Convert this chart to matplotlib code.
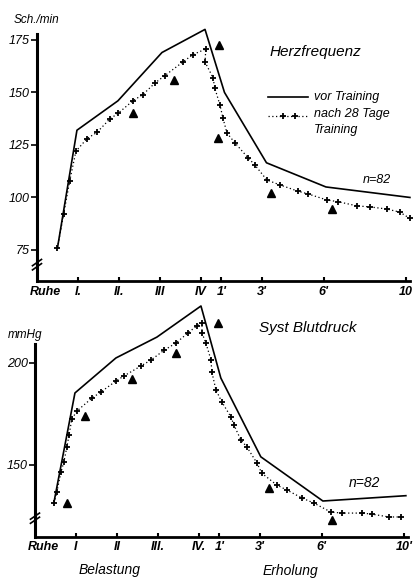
import matplotlib
matplotlib.use("Agg")
import matplotlib.pyplot as plt

plt.rcParams['font.family'] = ['Liberation Sans Narrow', 'Liberation Sans', 'DejaVu Sans']
plt.rcParams['font.style'] = 'italic'

# x positions: exercise stages and recovery minutes on a common scale
tick_pos = [-7.6, -6, -4, -2, 0, 1, 3, 6, 10]
top_tick_labels = ["Ruhe", "I.", "II.", "III", "IV", "1'", "3'", "6'", "10"]
bot_tick_labels = ["Ruhe", "I", "II", "III.", "IV.", "1'", "3'", "6'", "10'"]

# Heart rate (Herzfrequenz)
hr_pre_x = [-7.0, -6.05, -4.05, -1.9, 0.2, 1.15, 3.2, 6.1, 10.2]
hr_pre_y = [76, 132, 146, 169, 180, 150, 116.5, 105, 100]
hr_post_x = [-7.0, -6.7, -6.4, -6.1, -5.56, -5.07, -4.44, -4.05, -3.32, -2.83, -2.24, -1.76,
             -0.88, -0.39, 0.24, 0.2, 0.59, 0.68, 0.93, 1.07, 1.27, 1.66, 2.29, 2.63, 3.22,
             3.85, 4.73, 5.22, 6.15, 6.68, 7.61, 8.24, 9.07, 9.71, 10.2]
hr_post_y = [76, 92, 108, 122, 128, 131, 137.4, 140, 146, 149, 154.5, 158,
             164.5, 168, 170.7, 164.5, 157, 152, 144, 138, 130.7, 126, 119, 115.5, 108.3,
             106, 103, 101.7, 98.8, 98, 96, 95.5, 94.5, 93, 90]
hr_tri_x = [-3.3, -1.3, 0.9, 0.85, 3.4, 6.4]
hr_tri_y = [140, 156, 172.6, 128.3, 102, 94.5]

# Systolic blood pressure (Syst Blutdruck)
bp_pre_x = [-7.07, -6.05, -4.05, -2.05, 0.1, 1.07, 3.02, 6.05, 10.1]
bp_pre_y = [132, 185.2, 202.3, 212.5, 227.7, 192.5, 154, 132.4, 135]
bp_post_x = [-7.07, -6.93, -6.73, -6.59, -6.44, -6.34, -6.2, -5.95, -5.22, -4.78, -4.05, -3.66,
             -2.83, -2.34, -1.71, -1.12, -0.54, -0.1, 0.15, 0.15, 0.34, 0.59, 0.63, 0.83,
             1.12, 1.56, 1.71, 2.05, 2.34, 2.83, 3.07, 3.8, 4.29, 5.02, 5.61, 6.44, 6.98,
             7.95, 8.44, 9.27, 9.85]
bp_post_y = [131.4, 137, 146.6, 151.5, 159, 164.6, 172.5, 176.4, 182.7, 185.7, 191, 193.5,
             198.4, 201.3, 206, 209.6, 214.5, 218, 219.4, 214.5, 209.6, 201.3, 195.5, 186.7,
             180.8, 173.5, 169.5, 162.2, 158.8, 151, 146, 140.2, 137.8, 133.9, 131.4, 127, 126.5,
             126.5, 126, 124.6, 124.6]
bp_tri_x = [-6.44, -5.56, -3.27, -1.12, 0.93, 3.41, 6.49]
bp_tri_y = [131.4, 174, 192, 204.7, 219.4, 138.8, 123]

fig = plt.figure(figsize=(4.16, 5.8), dpi=100)
ax1 = fig.add_axes([0.0889, 0.5147, 0.9014, 0.4491])
ax2 = fig.add_axes([0.0841, 0.0748, 0.9014, 0.4128])


def style(ax, ylim, yticks, ytop, xlabels, brk):
    ax.set_xlim(-8, 10.3)
    ax.set_ylim(*ylim)
    for s in ['top', 'right']:
        ax.spines[s].set_visible(False)
    ax.spines['left'].set_linewidth(2.2)
    ax.spines['bottom'].set_linewidth(2.0)
    ax.spines['left'].set_bounds(ylim[0], ytop)
    ax.spines['bottom'].set_bounds(-8, 10.2)
    ax.set_yticks(yticks)
    ax.set_yticklabels([str(t) for t in yticks], fontsize=9)
    ax.tick_params(axis='y', direction='out', length=4, width=1.2, pad=1)
    ax.set_xticks(tick_pos)
    ax.set_xticklabels(xlabels, fontsize=9, fontweight='bold')
    ax.tick_params(axis='x', direction='in', length=3, width=1.5, pad=3)
    ax.xaxis.get_major_ticks()[0].tick1line.set_visible(False)
    tr = ax.get_yaxis_transform()
    for dy in (0, 2.0):
        ax.plot([-0.012, 0.012], [brk - 1.5 + dy, brk + 1.5 + dy], color='black', lw=1.2,
                transform=tr, clip_on=False)


def draw(ax, px, py, qx, qy, tx, ty):
    ax.plot(px, py, color='black', lw=1.2)
    ax.plot(qx, qy, color='black', lw=0.9, ls=(0, (1, 2)), marker='+', ms=5, mew=1.3)
    ax.plot(tx, ty, ls='none', marker='^', color='black', ms=6)


draw(ax1, hr_pre_x, hr_pre_y, hr_post_x, hr_post_y, hr_tri_x, hr_tri_y)
style(ax1, (60, 184), [75, 100, 125, 150, 175], 178, top_tick_labels, 67)

draw(ax2, bp_pre_x, bp_pre_y, bp_post_x, bp_post_y, bp_tri_x, bp_tri_y)
style(ax2, (115, 232), [150, 200], 209, bot_tick_labels, 123)

# Texts and legend in the top panel
ax1.text(3.37, 169.3, "Herzfrequenz", fontsize=11, va='center')
ax1.plot([3.27, 5.22], [147.9, 147.9], color='black', lw=1.2)
ax1.plot([3.27, 5.22], [138.8, 138.8], color='black', lw=0.9, ls=(0, (1, 2)))
ax1.plot([4.0, 4.6], [138.8, 138.8], ls='none', marker='+', color='black', ms=5, mew=1.3)
ax1.text(5.5, 147.9, "vor Training", fontsize=9, va='center')
ax1.text(5.5, 139.5, "nach 28 Tage", fontsize=9, va='center')
ax1.text(5.5, 132.0, "Training", fontsize=9, va='center')
ax1.text(7.9, 108.3, "n=82", fontsize=9, va='center')

ax2.text(2.93, 217, "Syst Blutdruck", fontsize=11, va='center')
ax2.text(7.3, 141.2, "n=82", fontsize=10, va='center')

fig.text(14 / 416, 1 - 20 / 580, "Sch./min", fontsize=8.5, va='center')
fig.text(8 / 416, 1 - 335 / 580, "mmHg", fontsize=8.5, va='center')
fig.text(110 / 416, 1 - 570 / 580, "Belastung", fontsize=10, va='center', ha='center')
fig.text(290 / 416, 1 - 571 / 580, "Erholung", fontsize=10, va='center', ha='center')

fig.savefig("out.png", dpi=100)
